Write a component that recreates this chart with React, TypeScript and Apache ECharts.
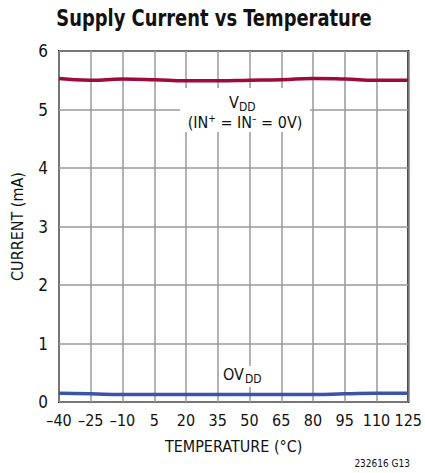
import React, { useEffect, useRef } from "react";
import * as echarts from "echarts";

const temperatures = ["–40", "–25", "–10", "5", "20", "35", "50", "65", "80", "95", "110", "125"];
const vddCurrent = [5.53, 5.5, 5.52, 5.51, 5.49, 5.49, 5.5, 5.51, 5.53, 5.52, 5.5, 5.5];
const ovddCurrent = [0.15, 0.14, 0.13, 0.13, 0.13, 0.13, 0.13, 0.13, 0.13, 0.14, 0.15, 0.15];

const FONT = "'Liberation Sans Narrow', 'DejaVu Sans Condensed', 'Roboto Condensed', 'Arial Narrow', sans-serif";

export default function App() {
  const ref = useRef<HTMLDivElement>(null);
  useEffect(() => {
    if (!ref.current) return;
    const chart = echarts.init(ref.current, undefined, { renderer: "svg" });
    chart.setOption({
      animation: false,
      backgroundColor: "#fff",
      textStyle: { fontFamily: FONT },
      grid: { left: 59, right: 14, top: 51, bottom: 71, show: true, borderColor: "#111", borderWidth: 2 },
      xAxis: {
        type: "category",
        data: temperatures,
        boundaryGap: false,
        name: "TEMPERATURE (°C)",
        nameLocation: "middle",
        nameGap: 36,
        nameTextStyle: { fontFamily: FONT, fontSize: 16, color: "#111" },
        axisLine: { show: false },
        axisTick: { show: false },
        axisLabel: { fontFamily: FONT, fontSize: 16, color: "#111", margin: 10, interval: 0 },
        splitLine: { show: true, interval: 0, lineStyle: { color: "#999", width: 1.5 } },
      },
      yAxis: {
        type: "value",
        min: 0,
        max: 6,
        interval: 1,
        name: "CURRENT (mA)",
        nameLocation: "middle",
        nameRotate: 90,
        nameGap: 34,
        nameTextStyle: { fontFamily: FONT, fontSize: 16, color: "#111" },
        axisLine: { show: false },
        axisTick: { show: false },
        axisLabel: { fontFamily: FONT, fontSize: 17, color: "#111", margin: 11 },
        splitLine: { show: true, lineStyle: { color: "#999", width: 1.5 } },
      },
      series: [
        {
          name: "VDD",
          type: "line",
          data: vddCurrent,
          smooth: true,
          symbol: "none",
          lineStyle: { color: "#9e0b3a", width: 3.5 },
          z: 5,
        },
        {
          name: "OVDD",
          type: "line",
          data: ovddCurrent,
          smooth: true,
          symbol: "none",
          lineStyle: { color: "#3a55a8", width: 3.5 },
          z: 5,
        },
      ],
      graphic: [
        {
          type: "text",
          x: 214,
          y: 6,
          scaleX: 0.865,
          style: {
            text: "Supply Current vs Temperature",
            font: `bold 23px ${FONT}`,
            fill: "#111",
            align: "center",
          },
        },
        { type: "rect", shape: { x: 180, y: 88, width: 130, height: 44 }, style: { fill: "#fff" }, z: 10 },
        { type: "text", x: 229, y: 94, style: { text: "V", font: `16px ${FONT}`, fill: "#111" }, z: 11 },
        { type: "text", x: 239, y: 101, style: { text: "DD", font: `12px ${FONT}`, fill: "#111" }, z: 11 },
        {
          type: "text",
          x: 245,
          y: 113,
          style: {
            text: "(IN{sup|+} = IN{sup|–} = 0V)",
            font: `16px ${FONT}`,
            fill: "#111",
            align: "center",
            rich: {
              sup: { fontSize: 10, fontFamily: FONT, verticalAlign: "top", lineHeight: 18, padding: [0, 0, 6, 0] },
            },
          },
          z: 11,
        },
        { type: "rect", shape: { x: 221, y: 366, width: 45, height: 21 }, style: { fill: "#fff" }, z: 10 },
        { type: "text", x: 223, y: 366, style: { text: "OV", font: `16px ${FONT}`, fill: "#111" }, z: 11 },
        { type: "text", x: 245, y: 373, style: { text: "DD", font: `12px ${FONT}`, fill: "#111" }, z: 11 },
        {
          type: "text",
          right: 15,
          top: 458,
          style: { text: "232616 G13", font: `10px ${FONT}`, fill: "#111" },
        },
      ],
    });
    return () => chart.dispose();
  }, []);
  return <div ref={ref} style={{ position: "absolute", left: 0, top: 0, width: 425, height: 473 }} />;
}
